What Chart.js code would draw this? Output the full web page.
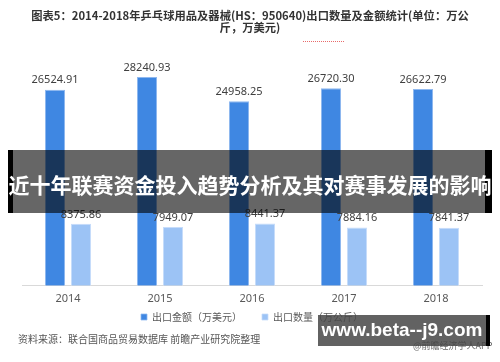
<!DOCTYPE html>
<html><head><meta charset="utf-8">
<script src="https://cdn.jsdelivr.net/npm/chart.js@4/dist/chart.umd.min.js"></script>
<style>
html,body{margin:0;padding:0;background:#fff;}
#wrap{position:relative;width:500px;height:362px;overflow:hidden;font-family:"Noto Sans CJK SC","Noto Sans",sans-serif;}
#c{position:absolute;left:0;top:0;}
.title{position:absolute;left:0;width:500px;text-align:center;font-weight:bold;font-size:11.3px;color:#333;line-height:12px;}
#dots{position:absolute;left:303px;top:41px;width:42px;height:1px;background:repeating-linear-gradient(90deg,#e86a6a 0 1px,transparent 1px 2px);}
#banner{position:absolute;left:13px;top:150px;width:472px;height:63px;background:rgba(0,0,0,0.6);}
#bl{position:absolute;left:8px;top:150px;width:5px;height:63px;background:#000;}
#br{position:absolute;left:485px;top:150px;width:7px;height:63px;background:#000;}
#btext{position:absolute;left:0;top:170px;width:500px;text-align:center;color:#fff;font-weight:bold;font-size:21px;line-height:28px;white-space:nowrap;}
#src{position:absolute;left:18px;top:331px;font-size:10px;color:#555;white-space:nowrap;}
#app{position:absolute;left:413px;top:339px;font-size:9px;color:#666;white-space:nowrap;}
#wm{position:absolute;left:318px;top:315px;width:168px;height:31px;background:rgba(70,70,70,0.85);}
#wmb{position:absolute;left:486px;top:315px;width:4px;height:31px;background:#000;}
#wmt{position:absolute;left:318px;top:318px;width:168px;text-align:center;color:#fff;font-weight:bold;font-family:"Liberation Sans",sans-serif;font-size:19px;line-height:24px;white-space:nowrap;}
</style></head>
<body>
<div id="wrap">
<canvas id="c" width="500" height="362"></canvas>
<div class="title" style="top:9px">图表5：2014-2018年乒乓球用品及器械(HS：950640)出口数量及金额统计(单位：万公</div>
<div class="title" style="top:21px">斤，万美元)</div>
<div id="dots"></div>
<div id="src">资料来源：联合国商品贸易数据库 前瞻产业研究院整理</div>
<div id="app">@前瞻经济学人APP</div>
<div id="wm"></div><div id="wmb"></div>
<div id="wmt">www.beta--j9.com</div>
<div id="banner"></div><div id="bl"></div><div id="br"></div>
<div id="btext">近十年联赛资金投入趋势分析及其对赛事发展的影响</div>
</div>
<script>
const categories = ["2014","2015","2016","2017","2018"];
const exportValue = [26524.91, 28240.93, 24958.25, 26720.30, 26622.79];
const exportVolume = [8375.86, 7949.07, 8441.37, 7884.16, 7841.37];
const seriesNames = ["出口金额（万美元）","出口数量（万公斤）"];

const labelPlugin = {
  id:'vals',
  afterDatasetsDraw(chart){
    const ctx = chart.ctx;
    ctx.save();
    ctx.font = '11px "Noto Sans","Noto Sans CJK SC",sans-serif';
    ctx.fillStyle = '#404040';
    ctx.textAlign = 'center';
    ctx.textBaseline = 'bottom';
    chart.data.datasets.forEach((ds,i)=>{
      chart.getDatasetMeta(i).data.forEach((el,j)=>{
        ctx.fillText(ds.data[j].toFixed(2), el.x, el.y - 4);
      });
    });
    ctx.restore();
  }
};
const legendShift = {
  id:'legendShift',
  afterLayout(chart){
    if (chart.legend){ chart.legend.top -= 20; chart.legend.bottom -= 20; }
  }
};

new Chart(document.getElementById('c'), {
  type:'bar',
  data:{
    labels:categories,
    datasets:[
      {label:seriesNames[0], data:exportValue, backgroundColor:'#3f87e2', borderColor:'#8fb8ef', borderWidth:{left:1,right:1,top:1,bottom:0}, categoryPercentage:0.565, barPercentage:0.77},
      {label:seriesNames[1], data:exportVolume, backgroundColor:'#9cc3f5', borderColor:'#c6dcfa', borderWidth:{left:1,right:1,top:1,bottom:0}, categoryPercentage:0.565, barPercentage:0.77}
    ]
  },
  options:{
    responsive:false, animation:false,
    layout:{padding:{top:64,left:22,right:18,bottom:10}},
    plugins:{
      title:{display:false}, tooltip:{enabled:false},
      legend:{position:'bottom', labels:{usePointStyle:true, pointStyle:'rect', boxWidth:6, boxHeight:6, padding:20, color:'#595959', font:{size:10, family:'"Noto Sans CJK SC",sans-serif'}}}
    },
    scales:{
      x:{grid:{display:false, drawTicks:false}, border:{color:'#d9d9d9'}, ticks:{color:'#595959', padding:6.5, font:{size:11, family:'"Noto Sans",sans-serif'}}},
      y:{display:false, min:0, max:30000}
    }
  },
  plugins:[labelPlugin, legendShift]
});
</script>
</body></html>
